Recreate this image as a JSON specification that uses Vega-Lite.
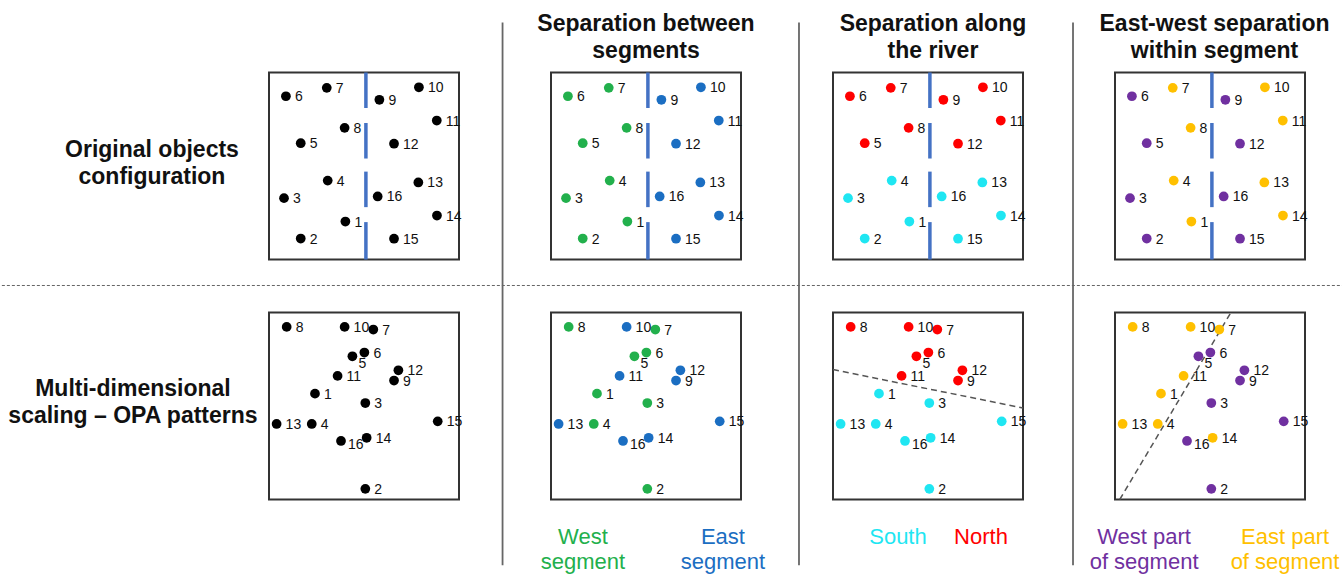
{
  "$schema": "https://vega.github.io/schema/vega-lite/v6.json",
  "background": "white",
  "padding": {"left": 0, "top": 11.5, "right": 0, "bottom": 0},
  "config": {
    "font": "Liberation Sans",
    "view": {"stroke": "#333333", "strokeWidth": 2}
  },
  "data": {"values": [
    {"kind": "pt", "s": "o", "id": 1, "x": 40.2, "y": 20.3, "k": "none", "seg": "West segment", "riv": "South", "part": "East part"},
    {"kind": "pt", "s": "o", "id": 2, "x": 16.7, "y": 11.2, "k": "none", "seg": "West segment", "riv": "South", "part": "West part"},
    {"kind": "pt", "s": "o", "id": 3, "x": 7.9, "y": 32.8, "k": "none", "seg": "West segment", "riv": "South", "part": "West part"},
    {"kind": "pt", "s": "o", "id": 4, "x": 30.9, "y": 42.2, "k": "none", "seg": "West segment", "riv": "South", "part": "East part"},
    {"kind": "pt", "s": "o", "id": 5, "x": 16.7, "y": 62.2, "k": "none", "seg": "West segment", "riv": "North", "part": "West part"},
    {"kind": "pt", "s": "o", "id": 6, "x": 8.9, "y": 87.3, "k": "none", "seg": "West segment", "riv": "North", "part": "West part"},
    {"kind": "pt", "s": "o", "id": 7, "x": 30.4, "y": 91.8, "k": "none", "seg": "West segment", "riv": "North", "part": "East part"},
    {"kind": "pt", "s": "o", "id": 8, "x": 39.8, "y": 70.4, "k": "none", "seg": "West segment", "riv": "North", "part": "East part"},
    {"kind": "pt", "s": "o", "id": 9, "x": 58.1, "y": 85.4, "k": "none", "seg": "East segment", "riv": "North", "part": "West part"},
    {"kind": "pt", "s": "o", "id": 10, "x": 78.9, "y": 92.1, "k": "none", "seg": "East segment", "riv": "North", "part": "East part"},
    {"kind": "pt", "s": "o", "id": 11, "x": 88.3, "y": 74.3, "k": "none", "seg": "East segment", "riv": "North", "part": "East part"},
    {"kind": "pt", "s": "o", "id": 12, "x": 65.8, "y": 61.9, "k": "none", "seg": "East segment", "riv": "North", "part": "West part"},
    {"kind": "pt", "s": "o", "id": 13, "x": 78.6, "y": 41.2, "k": "none", "seg": "East segment", "riv": "South", "part": "East part"},
    {"kind": "pt", "s": "o", "id": 14, "x": 88.4, "y": 23.5, "k": "none", "seg": "East segment", "riv": "South", "part": "East part"},
    {"kind": "pt", "s": "o", "id": 15, "x": 65.8, "y": 11.1, "k": "none", "seg": "East segment", "riv": "South", "part": "West part"},
    {"kind": "pt", "s": "o", "id": 16, "x": 57.2, "y": 33.7, "k": "none", "seg": "East segment", "riv": "South", "part": "West part"},
    {"kind": "pt", "s": "m", "id": 1, "x": 24.2, "y": 56.6, "k": "none", "seg": "West segment", "riv": "South", "part": "East part"},
    {"kind": "pt", "s": "m", "id": 2, "x": 50.7, "y": 5.7, "k": "none", "seg": "West segment", "riv": "South", "part": "West part"},
    {"kind": "pt", "s": "m", "id": 3, "x": 50.7, "y": 51.6, "k": "none", "seg": "West segment", "riv": "South", "part": "West part"},
    {"kind": "pt", "s": "m", "id": 4, "x": 22.5, "y": 40.4, "k": "none", "seg": "West segment", "riv": "South", "part": "East part"},
    {"kind": "pt", "s": "m", "id": 5, "x": 43.9, "y": 76.6, "k": "none", "seg": "West segment", "riv": "North", "part": "West part"},
    {"kind": "pt", "s": "m", "id": 6, "x": 50.2, "y": 78.6, "k": "none", "seg": "West segment", "riv": "North", "part": "West part"},
    {"kind": "pt", "s": "m", "id": 7, "x": 54.9, "y": 90.9, "k": "none", "seg": "West segment", "riv": "North", "part": "East part"},
    {"kind": "pt", "s": "m", "id": 8, "x": 9.3, "y": 92.3, "k": "none", "seg": "West segment", "riv": "North", "part": "East part"},
    {"kind": "pt", "s": "m", "id": 9, "x": 65.8, "y": 63.6, "k": "none", "seg": "East segment", "riv": "North", "part": "West part"},
    {"kind": "pt", "s": "m", "id": 10, "x": 39.8, "y": 92.3, "k": "none", "seg": "East segment", "riv": "North", "part": "East part"},
    {"kind": "pt", "s": "m", "id": 11, "x": 36.1, "y": 66.1, "k": "none", "seg": "East segment", "riv": "North", "part": "East part"},
    {"kind": "pt", "s": "m", "id": 12, "x": 68.1, "y": 69.1, "k": "none", "seg": "East segment", "riv": "North", "part": "West part"},
    {"kind": "pt", "s": "m", "id": 13, "x": 4.0, "y": 40.4, "k": "none", "seg": "East segment", "riv": "South", "part": "East part"},
    {"kind": "pt", "s": "m", "id": 14, "x": 51.4, "y": 33.0, "k": "none", "seg": "East segment", "riv": "South", "part": "East part"},
    {"kind": "pt", "s": "m", "id": 15, "x": 88.8, "y": 41.8, "k": "none", "seg": "East segment", "riv": "South", "part": "West part"},
    {"kind": "pt", "s": "m", "id": 16, "x": 37.9, "y": 31.3, "k": "none", "seg": "East segment", "riv": "South", "part": "West part"},
    {"kind": "river", "s": "o", "x": 51, "y": 81, "y2": 100},
    {"kind": "river", "s": "o", "x": 51, "y": 54, "y2": 73},
    {"kind": "river", "s": "o", "x": 51, "y": 28, "y2": 47},
    {"kind": "river", "s": "o", "x": 51, "y": 0, "y2": 20},
    {"kind": "sep", "s": "o", "seg": "on", "x": -25.5, "y": 126.7, "y2": -163.5},
    {"kind": "sep", "s": "o", "riv": "on", "x": -17.9, "y": 126.7, "y2": -163.5},
    {"kind": "sep", "s": "o", "part": "on", "x": -22.1, "y": 126.7, "y2": -163.5},
    {"kind": "hline", "s": "o", "k": "on", "x": -140.6, "x2": 564.7, "y": -13.9},
    {"kind": "cut", "s": "m", "riv": "on", "x": 0, "y": 69.5, "x2": 100, "y2": 48.9},
    {"kind": "cut", "s": "m", "part": "on", "x": 2.5, "y": 0, "x2": 61, "y2": 100},
    {"kind": "title", "s": "o", "seg": "on", "x": 50, "y": 125.7, "label": "Separation between\nsegments"},
    {"kind": "title", "s": "o", "riv": "on", "x": 52.6, "y": 125.7, "label": "Separation along\nthe river"},
    {"kind": "title", "s": "o", "part": "on", "x": 52.4, "y": 125.7, "label": "East-west separation\nwithin segment"},
    {"kind": "rowlab", "s": "o", "k": "on", "x": -61.6, "y": 58.3, "label": "Original objects\nconfiguration"},
    {"kind": "rowlab", "s": "m", "k": "on", "x": -71.6, "y": 59.2, "label": "Multi-dimensional\nscaling – OPA patterns"},
    {"kind": "legend", "s": "m", "seg": "West segment", "x": 16.8, "y": -20.3, "label": "West\nsegment"},
    {"kind": "legend", "s": "m", "seg": "East segment", "x": 90.5, "y": -20.3, "label": "East\nsegment"},
    {"kind": "legend", "s": "m", "riv": "South", "x": 34.2, "y": -20.3, "label": "South"},
    {"kind": "legend", "s": "m", "riv": "North", "x": 77.9, "y": -20.3, "label": "North"},
    {"kind": "legend", "s": "m", "part": "West part", "x": 15.3, "y": -20.3, "label": "West part\nof segment"},
    {"kind": "legend", "s": "m", "part": "East part", "x": 89.5, "y": -20.3, "label": "East part\nof segment"}
  ]},
  "transform": [{"fold": ["k", "seg", "riv", "part"], "as": ["col", "grp"]}],
  "facet": {
    "row": {"field": "s", "type": "nominal", "sort": ["o", "m"], "header": {"title": null, "labels": false}},
    "column": {"field": "col", "type": "nominal", "sort": ["k", "seg", "riv", "part"], "header": {"title": null, "labels": false}}
  },
  "spacing": {"row": 53, "column": 92},
  "bounds": "flush",
  "spec": {
    "width": 190,
    "height": 187,
    "layer": [
      {
        "transform": [{"filter": {"field": "kind", "equal": "river"}}],
        "mark": {"type": "rule", "color": "#4472c4", "strokeWidth": 3.5, "strokeCap": "butt"},
        "encoding": {
          "x": {"field": "x", "type": "quantitative", "scale": {"domain": [0, 100], "nice": false, "zero": false}, "axis": null},
          "y": {"field": "y", "type": "quantitative", "scale": {"domain": [0, 100], "nice": false, "zero": false}, "axis": null},
          "y2": {"field": "y2"}
        }
      },
      {
        "transform": [{"filter": {"and": [{"field": "kind", "equal": "sep"}, {"field": "grp", "equal": "on"}]}}],
        "mark": {"type": "rule", "color": "#666666", "strokeWidth": 1.8},
        "encoding": {
          "x": {"field": "x", "type": "quantitative"},
          "y": {"field": "y", "type": "quantitative"},
          "y2": {"field": "y2"}
        }
      },
      {
        "transform": [{"filter": {"and": [{"field": "kind", "equal": "hline"}, {"field": "grp", "equal": "on"}]}}],
        "mark": {"type": "rule", "color": "#666666", "strokeWidth": 1, "strokeDash": [3, 2]},
        "encoding": {
          "x": {"field": "x", "type": "quantitative"},
          "x2": {"field": "x2"},
          "y": {"field": "y", "type": "quantitative"}
        }
      },
      {
        "transform": [{"filter": {"and": [{"field": "kind", "equal": "cut"}, {"field": "grp", "equal": "on"}]}}],
        "mark": {"type": "rule", "color": "#555555", "strokeWidth": 1.5, "strokeDash": [6, 4]},
        "encoding": {
          "x": {"field": "x", "type": "quantitative"},
          "x2": {"field": "x2"},
          "y": {"field": "y", "type": "quantitative"},
          "y2": {"field": "y2"}
        }
      },
      {
        "transform": [{"filter": {"field": "kind", "equal": "pt"}}],
        "mark": {"type": "circle", "size": 95, "opacity": 1},
        "encoding": {
          "x": {"field": "x", "type": "quantitative"},
          "y": {"field": "y", "type": "quantitative"},
          "color": {
            "field": "grp", "type": "nominal", "legend": null,
            "scale": {
              "domain": ["none", "West segment", "East segment", "South", "North", "West part", "East part"],
              "range": ["#000000", "#22b04c", "#1b6ec2", "#1fe6f2", "#ff0000", "#7030a0", "#ffc000"]
            }
          }
        }
      },
      {
        "transform": [{"filter": {"and": [{"field": "kind", "equal": "pt"}, {"not": {"and": [{"field": "s", "equal": "m"}, {"field": "id", "oneOf": [5, 16]}]}}]}}],
        "mark": {"type": "text", "align": "left", "baseline": "middle", "dx": 9, "dy": 1, "fontSize": 14, "color": "#111111"},
        "encoding": {
          "x": {"field": "x", "type": "quantitative"},
          "y": {"field": "y", "type": "quantitative"},
          "text": {"field": "id", "type": "nominal"}
        }
      },
      {
        "transform": [{"filter": {"and": [{"field": "kind", "equal": "pt"}, {"field": "s", "equal": "m"}, {"field": "id", "equal": 5}]}}],
        "mark": {"type": "text", "align": "left", "baseline": "middle", "dx": 6, "dy": 8, "fontSize": 14, "color": "#111111"},
        "encoding": {
          "x": {"field": "x", "type": "quantitative"},
          "y": {"field": "y", "type": "quantitative"},
          "text": {"field": "id", "type": "nominal"}
        }
      },
      {
        "transform": [{"filter": {"and": [{"field": "kind", "equal": "pt"}, {"field": "s", "equal": "m"}, {"field": "id", "equal": 16}]}}],
        "mark": {"type": "text", "align": "left", "baseline": "middle", "dx": 7, "dy": 4, "fontSize": 14, "color": "#111111"},
        "encoding": {
          "x": {"field": "x", "type": "quantitative"},
          "y": {"field": "y", "type": "quantitative"},
          "text": {"field": "id", "type": "nominal"}
        }
      },
      {
        "transform": [{"filter": {"and": [{"field": "kind", "equal": "title"}, {"field": "grp", "equal": "on"}]}}],
        "mark": {"type": "text", "align": "center", "baseline": "middle", "fontSize": 23, "fontWeight": "bold", "lineHeight": 27, "lineBreak": "\n", "color": "#111111"},
        "encoding": {
          "x": {"field": "x", "type": "quantitative"},
          "y": {"field": "y", "type": "quantitative"},
          "text": {"field": "label", "type": "nominal"}
        }
      },
      {
        "transform": [{"filter": {"and": [{"field": "kind", "equal": "rowlab"}, {"field": "grp", "equal": "on"}]}}],
        "mark": {"type": "text", "align": "center", "baseline": "middle", "fontSize": 23, "fontWeight": "bold", "lineHeight": 27, "lineBreak": "\n", "color": "#111111"},
        "encoding": {
          "x": {"field": "x", "type": "quantitative"},
          "y": {"field": "y", "type": "quantitative"},
          "text": {"field": "label", "type": "nominal"}
        }
      },
      {
        "transform": [{"filter": {"and": [{"field": "kind", "equal": "legend"}, {"field": "grp", "oneOf": ["West segment", "East segment", "South", "North", "West part", "East part"]}]}}],
        "mark": {"type": "text", "align": "center", "baseline": "middle", "fontSize": 22, "lineHeight": 25, "lineBreak": "\n"},
        "encoding": {
          "x": {"field": "x", "type": "quantitative"},
          "y": {"field": "y", "type": "quantitative"},
          "text": {"field": "label", "type": "nominal"},
          "color": {"field": "grp", "type": "nominal", "legend": null}
        }
      }
    ]
  }
}
